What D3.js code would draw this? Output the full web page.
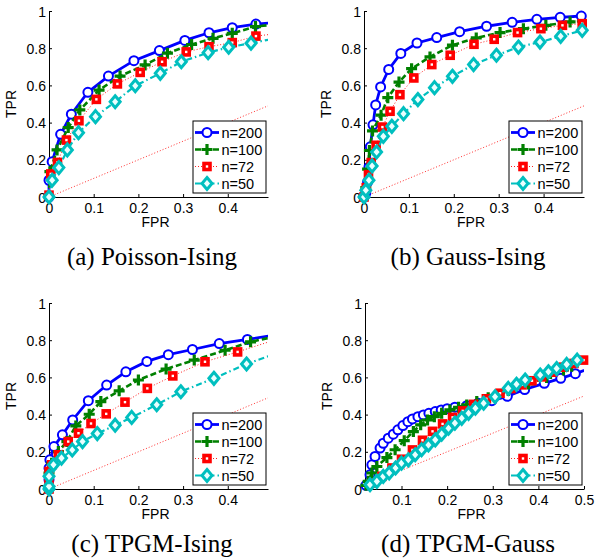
<!DOCTYPE html>
<html>
<head>
<meta charset="utf-8">
<script src="https://cdn.jsdelivr.net/npm/d3@7"></script>
<style>
  body { margin: 0; background: #fff; }
  text { font-family: "Liberation Sans", Arial, sans-serif; }
</style>
</head>
<body>
<div id="chart"></div>
<script>
// ROC points [FPR, TPR]
const poissonIsing200 = [[0,0],[0,0.09],[0.007,0.19],[0.026,0.337],[0.05,0.445],[0.087,0.563],[0.133,0.65],[0.19,0.733],[0.247,0.787],[0.304,0.842],[0.358,0.883],[0.41,0.91],[0.463,0.93],[0.515,0.94]];
const poissonIsing100 = [[0,0],[0.002,0.136],[0.018,0.253],[0.043,0.373],[0.069,0.468],[0.112,0.575],[0.159,0.65],[0.215,0.71],[0.265,0.773],[0.319,0.82],[0.367,0.853],[0.41,0.88],[0.462,0.916],[0.515,0.93]];
const poissonIsing72 = [[0,0.01],[0.004,0.124],[0.019,0.186],[0.039,0.306],[0.067,0.41],[0.106,0.525],[0.153,0.608],[0.204,0.67],[0.253,0.727],[0.307,0.78],[0.358,0.808],[0.41,0.83],[0.463,0.865],[0.515,0.88]];
const poissonIsing50 = [[0,0],[0.007,0.09],[0.022,0.158],[0.041,0.253],[0.066,0.346],[0.104,0.432],[0.148,0.512],[0.193,0.598],[0.249,0.665],[0.296,0.727],[0.356,0.776],[0.402,0.805],[0.452,0.827],[0.51,0.855]];

const gaussIsing200 = [[0,0],[0.004,0.02],[0.008,0.08],[0.011,0.16],[0.014,0.27],[0.02,0.388],[0.026,0.495],[0.037,0.592],[0.055,0.686],[0.082,0.772],[0.118,0.828],[0.162,0.857],[0.213,0.889],[0.273,0.918],[0.33,0.939],[0.385,0.955],[0.437,0.966],[0.484,0.973],[0.53,0.978]];
const gaussIsing100 = [[0,0],[0.004,0.05],[0.008,0.15],[0.012,0.25],[0.019,0.355],[0.038,0.44],[0.053,0.534],[0.078,0.618],[0.106,0.69],[0.147,0.753],[0.197,0.816],[0.25,0.855],[0.303,0.884],[0.355,0.905],[0.405,0.923],[0.459,0.941],[0.51,0.95]];
const gaussIsing72 = [[0,0],[0.005,0.05],[0.01,0.12],[0.016,0.185],[0.027,0.278],[0.041,0.376],[0.058,0.461],[0.08,0.55],[0.111,0.64],[0.151,0.712],[0.192,0.762],[0.245,0.821],[0.29,0.848],[0.342,0.884],[0.394,0.905],[0.442,0.923],[0.486,0.932],[0.53,0.94]];
const gaussIsing50 = [[0,0],[0.004,0.036],[0.011,0.09],[0.018,0.167],[0.028,0.242],[0.043,0.326],[0.062,0.38],[0.088,0.448],[0.12,0.524],[0.157,0.588],[0.197,0.649],[0.244,0.712],[0.295,0.762],[0.344,0.806],[0.392,0.833],[0.438,0.864],[0.486,0.896],[0.53,0.92]];

const tpgmIsing200 = [[0,0],[0,0.05],[0,0.112],[0.002,0.157],[0.011,0.228],[0.03,0.291],[0.053,0.371],[0.088,0.475],[0.129,0.559],[0.172,0.63],[0.219,0.686],[0.267,0.722],[0.321,0.75],[0.381,0.782],[0.444,0.804],[0.51,0.83]];
const tpgmIsing100 = [[0,0],[0,0.086],[0.006,0.139],[0.021,0.201],[0.04,0.255],[0.06,0.339],[0.09,0.402],[0.116,0.47],[0.157,0.528],[0.2,0.586],[0.262,0.645],[0.325,0.693],[0.394,0.746],[0.451,0.791],[0.51,0.822]];
const tpgmIsing72 = [[0,0],[0,0.04],[0,0.094],[0.006,0.13],[0.021,0.184],[0.043,0.255],[0.066,0.3],[0.094,0.352],[0.128,0.404],[0.17,0.467],[0.22,0.541],[0.277,0.608],[0.349,0.684],[0.422,0.737],[0.51,0.805]];
const tpgmIsing50 = [[0,0],[0,0.014],[0,0.068],[0.01,0.13],[0.028,0.166],[0.052,0.21],[0.075,0.255],[0.108,0.298],[0.148,0.343],[0.185,0.385],[0.241,0.453],[0.295,0.523],[0.369,0.595],[0.442,0.672],[0.51,0.73]];

const tpgmGauss200 = [[0.022,0.02],[0.031,0.077],[0.035,0.13],[0.042,0.175],[0.053,0.22],[0.06,0.246],[0.071,0.273],[0.082,0.295],[0.092,0.318],[0.103,0.341],[0.114,0.362],[0.124,0.377],[0.136,0.389],[0.148,0.398],[0.16,0.407],[0.174,0.416],[0.187,0.425],[0.2,0.432],[0.217,0.44],[0.243,0.448],[0.268,0.461],[0.298,0.475],[0.332,0.498],[0.37,0.535],[0.413,0.568],[0.449,0.595],[0.481,0.62],[0.52,0.655]];
const tpgmGauss100 = [[0.022,0.02],[0.027,0.041],[0.035,0.086],[0.046,0.121],[0.068,0.169],[0.086,0.211],[0.106,0.26],[0.126,0.309],[0.142,0.345],[0.157,0.371],[0.172,0.389],[0.188,0.407],[0.206,0.425],[0.225,0.439],[0.243,0.452],[0.265,0.47],[0.29,0.49],[0.334,0.53],[0.378,0.565],[0.418,0.6],[0.455,0.64],[0.473,0.66],[0.52,0.7]];
const tpgmGauss72 = [[0.038,0.032],[0.057,0.068],[0.079,0.113],[0.1,0.16],[0.124,0.21],[0.146,0.262],[0.168,0.31],[0.19,0.35],[0.212,0.385],[0.234,0.42],[0.258,0.455],[0.286,0.485],[0.316,0.515],[0.34,0.54],[0.364,0.56],[0.386,0.582],[0.407,0.603],[0.431,0.628],[0.455,0.655],[0.478,0.675],[0.499,0.693]];
const tpgmGauss50 = [[0.031,0.023],[0.046,0.041],[0.06,0.068],[0.073,0.086],[0.087,0.113],[0.1,0.139],[0.115,0.157],[0.13,0.184],[0.144,0.211],[0.159,0.237],[0.174,0.264],[0.188,0.295],[0.203,0.327],[0.217,0.354],[0.232,0.38],[0.247,0.407],[0.262,0.434],[0.28,0.461],[0.305,0.496],[0.334,0.541],[0.352,0.563],[0.371,0.586],[0.404,0.613],[0.422,0.63],[0.44,0.648],[0.462,0.67],[0.485,0.693]];

const legendLabels = ["n=200", "n=100", "n=72", "n=50"];
const xTicksLeft = [0, 0.1, 0.2, 0.3, 0.4];
const xTicksGauss = [0.1, 0.2, 0.3, 0.4, 0.5];
const yTicks = [0, 0.2, 0.4, 0.6, 0.8, 1];
const captions = ["(a) Poisson-Ising", "(b) Gauss-Ising", "(c) TPGM-Ising", "(d) TPGM-Gauss"];

const styles = [
  { color: "#0000ff", width: 2.8, dash: null, marker: "circle" },
  { color: "#008000", width: 2.6, dash: "6,3", marker: "plus" },
  { color: "#ff2020", width: 1, dash: "1,2", marker: "square" },
  { color: "#00bfbf", width: 2.2, dash: "6,3,1.5,3", marker: "diamond" }
];

const panels = [
  { series: [poissonIsing200, poissonIsing100, poissonIsing72, poissonIsing50], xd: [0, 0.49], xt: xTicksLeft, x0: 49, x1: 268, y0: 197, y1: 11 },
  { series: [gaussIsing200, gaussIsing100, gaussIsing72, gaussIsing50], xd: [0, 0.49], xt: xTicksLeft, x0: 364, x1: 584, y0: 197, y1: 11 },
  { series: [tpgmIsing200, tpgmIsing100, tpgmIsing72, tpgmIsing50], xd: [0, 0.49], xt: xTicksLeft, x0: 49, x1: 268, y0: 489, y1: 303 },
  { series: [tpgmGauss200, tpgmGauss100, tpgmGauss72, tpgmGauss50], xd: [0.02, 0.5], xt: xTicksGauss, x0: 365, x1: 584, y0: 489, y1: 303 }
];

const width = 595, height = 558;

const svg = d3.select("#chart").append("svg")
  .attr("width", width)
  .attr("height", height);

function drawMarker(g, type, color) {
  if (type === "circle") {
    g.append("circle").attr("r", 4.5).attr("fill", "#fff").attr("stroke", color).attr("stroke-width", 2);
  } else if (type === "plus") {
    g.append("path").attr("d", "M-5.5,0H5.5M0,-5.5V5.5").attr("stroke", color).attr("stroke-width", 3.2).attr("fill", "none");
  } else if (type === "square") {
    g.append("rect").attr("x", -3).attr("y", -3).attr("width", 6).attr("height", 6)
      .attr("fill", "#fff").attr("stroke", "#ff0000").attr("stroke-width", 3.6);
  } else {
    g.append("path").attr("d", "M0,-6L5,0L0,6L-5,0Z")
      .attr("fill", "#e8ffff").attr("stroke", color).attr("stroke-width", 3);
  }
}

panels.forEach((p, i) => {
  const x = d3.scaleLinear().domain(p.xd).range([p.x0, p.x1]);
  const y = d3.scaleLinear().domain([0, 1]).range([p.y0, p.y1]);
  const g = svg.append("g");

  const clipId = "clip" + i;
  svg.append("clipPath").attr("id", clipId)
    .append("rect")
    .attr("x", p.x0 - 10).attr("y", p.y1 - 10)
    .attr("width", p.x1 - p.x0 + 10).attr("height", p.y0 - p.y1 + 20);

  // axes (Matlab style, inward ticks, no box)
  const xAxis = d3.axisBottom(x).tickValues(p.xt).tickSizeInner(-3).tickSizeOuter(0)
    .tickFormat(d => d === 0 ? "0" : d3.format(".1f")(d));
  const yAxis = d3.axisLeft(y).tickValues(yTicks).tickSizeInner(-3).tickSizeOuter(0)
    .tickFormat(d => d === 0 ? "0" : d === 1 ? "1" : d3.format(".1f")(d));

  const gx = g.append("g").attr("transform", `translate(0,${p.y0})`).call(xAxis);
  const gy = g.append("g").attr("transform", `translate(${p.x0},0)`).call(yAxis);
  [gx, gy].forEach(a => {
    a.select(".domain").attr("stroke", "#000");
    a.selectAll(".tick line").attr("stroke", "#000");
    a.selectAll("text").attr("font-family", "Liberation Sans, Arial, sans-serif")
      .attr("font-size", 14).attr("fill", "#000");
  });
  gx.selectAll("text").attr("dy", null).attr("y", 16);
  gy.selectAll("text").attr("x", -3).attr("dy", "0.36em");

  // chance line
  g.append("line")
    .attr("clip-path", `url(#${clipId})`)
    .attr("x1", x(p.xd[0])).attr("y1", y(p.xd[0]))
    .attr("x2", x(0.5)).attr("y2", y(0.5))
    .attr("stroke", "#ff3030").attr("stroke-width", 1).attr("stroke-dasharray", "1,2");

  const line = d3.line().x(d => x(d[0])).y(d => y(d[1]));

  p.series.forEach((s, k) => {
    const st = styles[k];
    g.append("path").datum(s)
      .attr("clip-path", `url(#${clipId})`)
      .attr("d", line)
      .attr("fill", "none")
      .attr("stroke", st.color)
      .attr("stroke-width", st.width)
      .attr("stroke-dasharray", st.dash);
    s.filter(d => d[0] <= p.xd[1]).forEach(d => {
      const m = g.append("g").attr("transform", `translate(${x(d[0])},${y(d[1])})`);
      drawMarker(m, st.marker, st.color);
    });
  });

  // axis titles
  g.append("text")
    .attr("transform", `translate(${p.x0 - 33},${(p.y0 + p.y1) / 2}) rotate(-90)`)
    .attr("text-anchor", "middle")
    .attr("font-size", 14)
    .text("TPR");
  g.append("text")
    .attr("x", (p.x0 + p.x1) / 2 - 3).attr("y", p.y0 + 30)
    .attr("text-anchor", "middle")
    .attr("font-size", 14)
    .text("FPR");

  // legend
  const lw = 73, lh = 72;
  const lx = p.x1 - 2 - lw, ly = p.y0 - 4 - lh;
  const lg = g.append("g").attr("transform", `translate(${lx},${ly})`);
  lg.append("rect").attr("width", lw).attr("height", lh)
    .attr("fill", "#fff").attr("stroke", "#000").attr("stroke-width", 1);
  legendLabels.forEach((lab, k) => {
    const st = styles[k];
    const ry = 11.5 + k * 17;
    lg.append("line").attr("x1", 2).attr("x2", 26).attr("y1", ry).attr("y2", ry)
      .attr("stroke", st.color).attr("stroke-width", st.width).attr("stroke-dasharray", st.dash);
    drawMarker(lg.append("g").attr("transform", `translate(14,${ry})`), st.marker, st.color);
    lg.append("text").attr("x", 28.5).attr("y", ry).attr("dy", "0.36em")
      .attr("font-size", 14.5).text(lab);
  });

  // caption
  svg.append("text")
    .attr("x", i % 2 === 0 ? 152 : 468)
    .attr("y", i < 2 ? 265 : 552)
    .attr("text-anchor", "middle")
    .attr("font-size", 25)
    .style("font-family", "'Liberation Serif', serif")
    .text(captions[i]);
});
</script>
</body>
</html>
